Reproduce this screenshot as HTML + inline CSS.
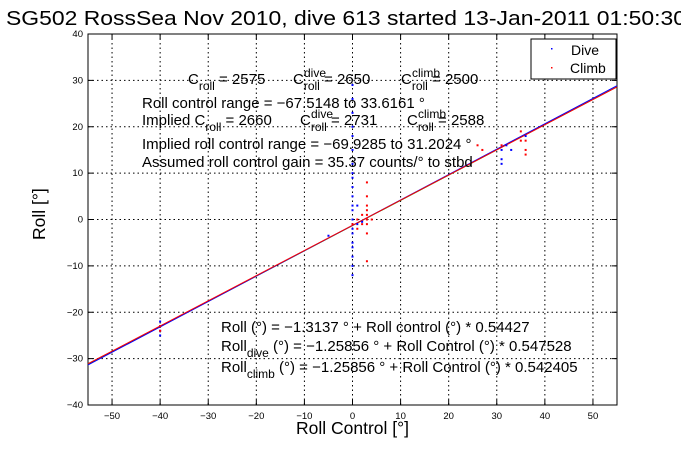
<!DOCTYPE html>
<html><head><meta charset="utf-8"><style>
body{margin:0;background:#fff;}
svg text{font-family:"Liberation Sans",sans-serif;}
</style></head><body>
<svg width="681" height="454" xmlns="http://www.w3.org/2000/svg">
<rect width="681" height="454" fill="#fff"/>
<text x="6" y="25" font-size="20" textLength="680" lengthAdjust="spacingAndGlyphs">SG502 RossSea Nov 2010, dive 613 started 13-Jan-2011 01:50:30</text>
<g id="grid"></g>
<g id="axes"></g>
<g id="marks"></g>
<g font-size="15">
<text x="188" y="84">C<tspan font-size="12" dy="6">roll</tspan><tspan dy="-6"> = 2575</tspan></text>
<text x="293" y="84">C<tspan font-size="12" dy="6">roll</tspan><tspan dy="-6"> = 2650</tspan></text>
<text x="304" y="77" font-size="12">dive</text>
<text x="401" y="84">C<tspan font-size="12" dy="6">roll</tspan><tspan dy="-6"> = 2500</tspan></text>
<text x="412" y="77" font-size="12">climb</text>
<text x="142" y="108">Roll control range = −67.5148 to 33.6161 °</text>
<text x="142" y="125">Implied C<tspan font-size="12" dy="6">roll</tspan><tspan dy="-6"> = 2660</tspan></text>
<text x="300" y="125">C<tspan font-size="12" dy="6">roll</tspan><tspan dy="-6"> = 2731</tspan></text>
<text x="311" y="118" font-size="12">dive</text>
<text x="407" y="125">C<tspan font-size="12" dy="6">roll</tspan><tspan dy="-6"> = 2588</tspan></text>
<text x="418" y="118" font-size="12">climb</text>
<text x="142" y="149">Implied roll control range = −69.9285 to 31.2024 °</text>
<text x="142" y="167">Assumed roll control gain = 35.37 counts/° to stbd</text>
</g>
<g font-size="15">
<text x="221" y="332">Roll (°) = −1.3137 ° + Roll control (°) * 0.54427</text>
<text x="221" y="351">Roll<tspan font-size="12" dy="6">dive</tspan><tspan dy="-6"> (°) = −1.25856 ° + Roll Control (°) * 0.547528</tspan></text>
<text x="221" y="372">Roll<tspan font-size="12" dy="6">climb</tspan><tspan dy="-6"> (°) = −1.25856 ° + Roll Control (°) * 0.542405</tspan></text>
</g>
<g>
<rect x="531" y="39" width="85" height="40" fill="#fff" stroke="#000"/>
<rect x="551" y="48" width="1.5" height="1.5" fill="#00f"/>
<text x="571" y="55" font-size="14">Dive</text>
<rect x="551" y="67" width="1.5" height="1.5" fill="#f00"/>
<text x="570" y="73" font-size="14">Climb</text>
</g>
<text x="296" y="434" font-size="17.5">Roll Control [°]</text>
<text transform="translate(45,240) rotate(-90)" font-size="17.5">Roll [°]</text>
</svg>
<script>
const xTicks=[-50,-40,-30,-20,-10,0,10,20,30,40,50];
const yTicks=[-40,-30,-20,-10,0,10,20,30,40];
const fitIntercept=[-1.3137,-1.25856,-1.25856];
const fitSlope=[0.54427,0.547528,0.542405];
const fitColors=['#0a0','#00f','#f00'];
const diveX=[-40,-40,-40,-40,-5,0,0,0,0,0,0,0,0,0,0,0,0,0,0,0,0,0,0,0,0,0,0,1,1,2,31,31,31,32,33,36];
const diveY=[-22,-23,-24,-25,-3.5,-12,-10,-8,-6,-5,-3,-2,-1,0,2,3,5,7,9,10,12,15,18,20,23,26,29,3,-1,-0.5,15,13,12,16,15,18];
const climbX=[-40,-40,0,1,1,2,2,3,3,3,3,3,3,3,3,3,4,26,27,31,35,35,36,36,36];
const climbY=[-23,-24,-1,-2,0,-1,1,-3,-1,0,1,2,3,5,8,-9,0,16,15,16,19,17,17,15,14];
const L=88,R=617,T=34,B=405,xmin=-55,xmax=55,ymin=-40,ymax=40;
const sx=v=>L+(v-xmin)/(xmax-xmin)*(R-L);
const sy=v=>B-(v-ymin)/(ymax-ymin)*(B-T);
const NS='http://www.w3.org/2000/svg';
function mk(tag,at,parent){const e=document.createElementNS(NS,tag);for(const k in at)e.setAttribute(k,at[k]);document.getElementById(parent).appendChild(e);return e;}
xTicks.forEach(t=>{
 if(t>xmin&&t<xmax){const g=mk('line',{x1:sx(t),x2:sx(t),y1:T,y2:B,stroke:'#000','stroke-dasharray':'1.5,3'},'grid');
 
 }
 const tx=mk('text',{x:sx(t),y:B+14,'font-size':'9.5','text-anchor':'middle'},'axes');tx.textContent=t<0?'−'+(-t):t;
 
 
 mk('line',{x1:sx(t),x2:sx(t),y1:B,y2:B-5,stroke:'#000'},'axes');
 mk('line',{x1:sx(t),x2:sx(t),y1:T,y2:T+5,stroke:'#000'},'axes');
});
yTicks.forEach(t=>{
 if(t>ymin&&t<ymax){const g=mk('line',{x1:L,x2:R,y1:sy(t),y2:sy(t),stroke:'#000','stroke-dasharray':'1.5,3'},'grid');
 
 }
 const tx=mk('text',{x:L-5,y:sy(t)+3,'font-size':'9.5','text-anchor':'end'},'axes');tx.textContent=t<0?'−'+(-t):t;
 
 
 mk('line',{x1:L,x2:L+5,y1:sy(t),y2:sy(t),stroke:'#000'},'axes');
 mk('line',{x1:R,x2:R-5,y1:sy(t),y2:sy(t),stroke:'#000'},'axes');
});
const frame=mk('rect',{x:L,y:T,width:R-L,height:B-T,fill:'none',stroke:'#000'},'axes');


fitSlope.forEach((m,i)=>{
 const b=fitIntercept[i];
 const ln=mk('line',{x1:sx(xmin),y1:sy(b+m*xmin),x2:sx(xmax),y2:sy(b+m*xmax),stroke:fitColors[i],'stroke-width':'1'},'marks');
 
 
});
function pts(xs,ys,c,name){xs.forEach((x,i)=>{
 const r=mk('rect',{x:sx(x)-1,y:sy(ys[i])-1,width:2,height:2,fill:c},'marks');
 
 
});}
pts(diveX,diveY,'#00f','dive-point');
pts(climbX,climbY,'#f00','climb-point');
</script>
</body></html>
